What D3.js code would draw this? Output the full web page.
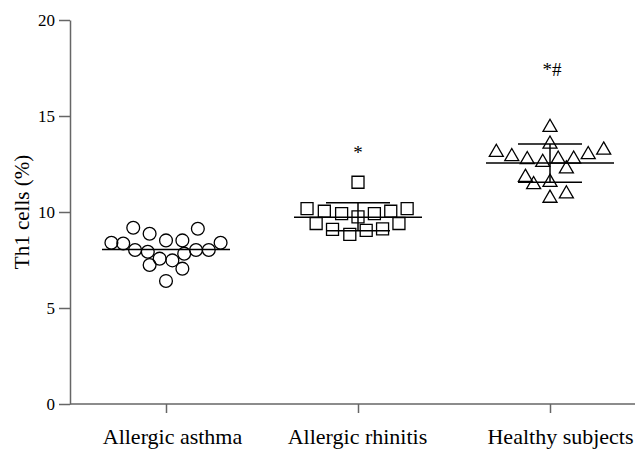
<!DOCTYPE html>
<html>
<head>
<meta charset="utf-8">
<script src="https://cdn.jsdelivr.net/npm/d3@7.9.0/dist/d3.min.js"></script>
<style>
  body { margin: 0; background: #fff; }
  svg { display: block; }
</style>
</head>
<body>
<script>
// ** Data **
const groups = ["Allergic asthma", "Allergic rhinitis", "Healthy subjects"];
const shapes = ["circle", "square", "triangle"];

// individual values, each paired with a small horizontal offset index (scatter column)
const asthmaVals = [9.18, 9.13, 8.87, 8.52, 8.52, 8.40, 8.36, 8.40, 8.02, 7.93, 8.02, 8.02, 7.83, 7.57, 7.48, 7.24, 7.05, 6.41];
const asthmaCols = [-1.8, 1.75, -0.9, 0, 0.9, -3, -2.35, 3, -1.7, -1, 1.65, 2.35, 1, -0.35, 0.35, -0.9, 0.9, 0];

const rhinitisVals = [11.55, 10.18, 10.04, 9.92, 9.75, 9.92, 10.04, 10.18, 9.40, 9.40, 9.09, 8.83, 9.04, 9.12];
const rhinitisCols = [0, -2.8, -1.85, -0.9, 0, 0.9, 1.8, 2.7, -2.3, 2.25, -1.4, -0.45, 0.45, 1.35];

const healthyVals = [14.46, 13.59, 13.16, 12.94, 12.78, 12.64, 12.81, 12.81, 13.04, 13.28, 12.30, 11.86, 11.48, 11.60, 10.77, 11.00];
const healthyCols = [0, 0, -2.95, -2.1, -1.25, -0.4, 0.45, 1.3, 2.1, 2.95, 0.9, -1.35, -0.9, 0, 0, 0.9];

const means = [8.05, 9.73, 12.55];
const sdUpper = [null, 10.48, 13.54];
const sdLower = [null, 9.02, 11.55];
const marks = ["", "*", "*#"];
const markY = [null, 13.06, 17.4];

const yTicks = [0, 5, 10, 15, 20];

// ** SVG Setup **
const width = 635, height = 449;
const svg = d3.select("body").append("svg")
    .attr("width", width)
    .attr("height", height);

const x = d3.scalePoint()
    .domain(groups)
    .range([166, 550]);

const y = d3.scaleLinear()
    .domain([0, 20])
    .range([404, 20]);

const colStep = 18.2; // px between scatter columns

// ** Axes **
const axisColor = "#666";
const font = "'Liberation Serif', 'Times New Roman', serif";

const yAxis = svg.append("g")
    .attr("transform", "translate(70,0)")
    .call(d3.axisLeft(y).tickValues(yTicks).tickSize(11).tickPadding(4).tickSizeOuter(0));
yAxis.select(".domain").attr("stroke", axisColor).attr("stroke-width", 1.5);
yAxis.selectAll(".tick line").attr("stroke", axisColor).attr("stroke-width", 1.5);
yAxis.selectAll(".tick text")
    .style("font-family", font)
    .style("font-size", "17px")
    .attr("fill", "#000");

// labels in the original sit a little off their ticks
const labelShift = [6, -1, 10];

const xAxis = svg.append("g")
    .attr("transform", "translate(0,404)")
    .call(d3.axisBottom(x).tickSize(9).tickSizeOuter(0));
xAxis.select(".domain")
    .attr("d", "M70,0H635")
    .attr("stroke", axisColor).attr("stroke-width", 1.5);
xAxis.selectAll(".tick line").attr("stroke", axisColor).attr("stroke-width", 1.5);
xAxis.selectAll(".tick text")
    .attr("y", 40)
    .attr("dy", 0)
    .attr("dx", (d, i) => labelShift[i])
    .style("font-family", font)
    .style("font-size", "22px")
    .attr("fill", "#000");

svg.append("text")
    .attr("transform", "translate(29,212) rotate(-90)")
    .attr("text-anchor", "middle")
    .style("font-family", font)
    .style("font-size", "21px")
    .text("Th1 cells (%)");

// ** Points **
const series = [
    { vals: asthmaVals, cols: asthmaCols },
    { vals: rhinitisVals, cols: rhinitisCols },
    { vals: healthyVals, cols: healthyCols }
];

const symbolFor = {
    circle: d3.symbol().type(d3.symbolCircle).size(Math.PI * 6.4 * 6.4),
    square: d3.symbol().type(d3.symbolSquare).size(12 * 12),
    triangle: d3.symbol().type(d3.symbolTriangle).size(85)
};

// summary lines first, so markers sit on top like the original
series.forEach((s, i) => {
    const cx = x(groups[i]);
    const g = svg.append("g").attr("stroke", "#000").attr("stroke-width", 1.5).attr("fill", "none");
    g.append("line")
        .attr("x1", cx - 64).attr("x2", cx + 64)
        .attr("y1", y(means[i])).attr("y2", y(means[i]));
    if (sdUpper[i] !== null) {
        g.append("line")
            .attr("x1", cx).attr("x2", cx)
            .attr("y1", y(sdUpper[i])).attr("y2", y(sdLower[i]));
        [sdUpper[i], sdLower[i]].forEach(v => {
            g.append("line")
                .attr("x1", cx - 32).attr("x2", cx + 32)
                .attr("y1", y(v)).attr("y2", y(v));
        });
    }
});

series.forEach((s, i) => {
    const cx = x(groups[i]);
    const sym = symbolFor[shapes[i]];
    svg.append("g")
        .selectAll("path")
        .data(s.vals.map((v, j) => ({ v, c: s.cols[j] })))
        .enter()
        .append("path")
        .attr("d", sym)
        .attr("transform", d => `translate(${cx + d.c * colStep},${y(d.v) + (shapes[i] === "triangle" ? 1 : 0)})`)
        .attr("fill", "none")
        .attr("stroke", "#000")
        .attr("stroke-width", 1.3);
});

// ** Significance marks **
svg.selectAll(".sig")
    .data(marks.map((m, i) => ({ m, i })).filter(d => d.m))
    .enter()
    .append("text")
    .attr("class", "sig")
    .attr("x", d => x(groups[d.i]) + (d.m.length > 1 ? 2 : 0))
    .attr("y", d => y(markY[d.i]) + 6)
    .attr("text-anchor", "middle")
    .style("font-family", font)
    .style("font-size", "19px")
    .text(d => d.m);
</script>
</body>
</html>
